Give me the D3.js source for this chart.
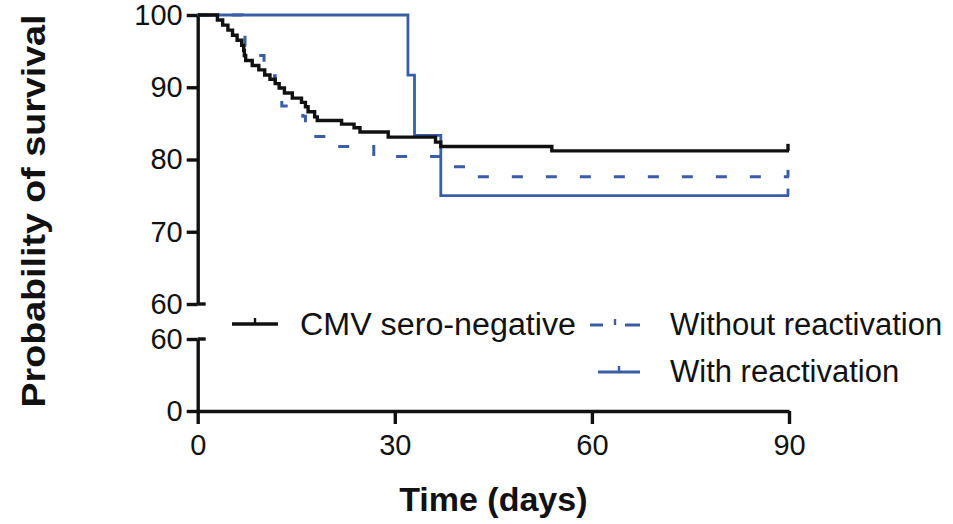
<!DOCTYPE html>
<html>
<head>
<meta charset="utf-8">
<script src="https://cdn.jsdelivr.net/npm/d3@7"></script>
<style>
  html, body { margin: 0; padding: 0; background: #fff; }
  svg { display: block; }
  text { font-family: "Liberation Sans", Arial, Helvetica, sans-serif; fill: #111; }
</style>
</head>
<body>
<svg id="chart" width="953" height="524"></svg>
<script>
// Kaplan-Meier survival steps: event times (days) and survival (%) after each event
const seroNegTimes = [0, 3.0, 3.8, 4.6, 5.3, 6.0, 6.7, 7.0, 7.1, 7.3, 8.3, 9.3, 10.2, 11.0, 11.8, 12.4, 13.2, 14.4, 15.8, 16.4, 16.8, 17.8, 18.2, 21.9, 23.8, 24.7, 29.0, 36.2, 37.0, 53.9];
const seroNegSurv  = [100, 99.3, 98.6, 97.9, 97.2, 96.5, 95.8, 95.1, 94.4, 93.7, 93.0, 92.4, 91.7, 91.1, 90.5, 89.9, 89.2, 88.5, 87.9, 87.3, 86.6, 85.9, 85.4, 84.9, 84.4, 83.8, 83.1, 82.4, 81.8, 81.2];

const noReactTimes = [0, 6.8, 7.1, 7.2, 7.8, 10.1, 11.2, 11.8, 12.1, 12.8, 16.0, 16.4, 17.0, 20.0, 26.8, 39.0, 40.9];
const noReactSurv  = [100, 98.6, 97.2, 95.8, 94.4, 93.0, 91.6, 90.2, 88.8, 87.4, 86.0, 84.6, 83.2, 81.8, 80.4, 79.0, 77.6];

const reactTimes = [0, 32, 33, 37];
const reactSurv  = [100, 91.67, 83.33, 75.0];

// censored observations shown as small upward ticks
const seroNegCensor = [90];
const noReactCensor = [90];
const reactCensor = [90];

const followUp = 90;
const xTicks = [0, 30, 60, 90];
const yTopTicks = [60, 70, 80, 90, 100];
const yBottomTicks = [0, 60];

const legendLabels = ["CMV sero-negative", "Without reactivation", "With reactivation"];

const blue = "#3a5ea6";
const ink = "#111";

const svg = d3.select("#chart");

const x = d3.scaleLinear().domain([0, 90]).range([197.7, 789]);
const yTop = d3.scaleLinear().domain([60, 100]).range([304, 15]);
const yBot = d3.scaleLinear().domain([0, 60]).range([411, 339]);

function styleAxis(g, fs) {
  g.selectAll("path, line").attr("stroke", ink).attr("stroke-width", 3.4);
  g.selectAll("text").attr("font-size", fs).attr("fill", "#111");
  g.attr("font-family", null);
}

// upper segment of the broken y axis
svg.append("g")
  .attr("transform", `translate(${x(0)},0)`)
  .call(d3.axisLeft(yTop).tickValues(yTopTicks).tickSizeInner(11).tickSizeOuter(0).tickPadding(4))
  .call(g => styleAxis(g, 29));

// lower segment of the broken y axis
svg.append("g")
  .attr("transform", `translate(${x(0)},0)`)
  .call(d3.axisLeft(yBot).tickValues(yBottomTicks).tickSizeInner(11).tickSizeOuter(0).tickPadding(4))
  .call(g => styleAxis(g, 29));

// caps at the axis break
[yTop(60), yBot(60)].forEach(yy => {
  svg.append("line")
    .attr("x1", x(0)).attr("x2", x(0) + 8)
    .attr("y1", yy).attr("y2", yy)
    .attr("stroke", ink).attr("stroke-width", 3.4);
});

// x axis
svg.append("g")
  .attr("transform", `translate(0,${yBot(0)})`)
  .call(d3.axisBottom(x).tickValues(xTicks).tickSizeInner(13).tickSizeOuter(0).tickPadding(10))
  .call(g => styleAxis(g, 29));

// axis titles
svg.append("text")
  .attr("transform", `translate(45,${211}) rotate(-90)`)
  .attr("text-anchor", "middle")
  .attr("font-size", 34).attr("font-weight", "bold")
  .attr("textLength", 393).attr("lengthAdjust", "spacingAndGlyphs")
  .text("Probability of survival");

svg.append("text")
  .attr("x", (x(0) + x(90)) / 2).attr("y", 511)
  .attr("text-anchor", "middle")
  .attr("font-size", 34).attr("font-weight", "bold")
  .text("Time (days)");

// survival curves
const step = d3.line().x(d => x(d[0])).y(d => yTop(d[1])).curve(d3.curveStepAfter);

function series(times, surv) {
  const pts = times.map((t, i) => [t, surv[i]]);
  pts.push([followUp, surv[surv.length - 1]]);
  return pts;
}

function survAt(times, surv, t) {
  let v = surv[0];
  times.forEach((tt, i) => { if (tt <= t) v = surv[i]; });
  return v;
}

function drawCensor(times, surv, cens, color, w) {
  cens.forEach(t => {
    const v = survAt(times, surv, t);
    svg.append("line")
      .attr("x1", x(t) - 1).attr("x2", x(t) - 1)
      .attr("y1", yTop(v)).attr("y2", yTop(v) - 7)
      .attr("stroke", color).attr("stroke-width", w);
  });
}

svg.append("path")
  .datum(series(noReactTimes, noReactSurv))
  .attr("d", step)
  .attr("fill", "none").attr("stroke", blue).attr("stroke-width", 3)
  .attr("stroke-dasharray", "11,23");
drawCensor(noReactTimes, noReactSurv, noReactCensor, blue, 3);

svg.append("path")
  .datum(series(reactTimes, reactSurv))
  .attr("d", step)
  .attr("fill", "none").attr("stroke", blue).attr("stroke-width", 2.8);
drawCensor(reactTimes, reactSurv, reactCensor, blue, 2.8);

svg.append("path")
  .datum(series(seroNegTimes, seroNegSurv))
  .attr("d", step)
  .attr("fill", "none").attr("stroke", ink).attr("stroke-width", 3.4);
drawCensor(seroNegTimes, seroNegSurv, seroNegCensor, ink, 3.4);

// legend
const legend = [
  { label: legendLabels[0], color: ink, dash: null, x1: 232, x2: 278, y: 324, tx: 300, ty: 335, w: 3.4, len: 276 },
  { label: legendLabels[1], color: blue, dash: "13,22,15", x1: 590, x2: 640, y: 325, tx: 670, ty: 335, w: 3, len: null },
  { label: legendLabels[2], color: blue, dash: null, x1: 598, x2: 640, y: 372, tx: 670, ty: 382, w: 2.8, len: null }
];
legend.forEach(l => {
  svg.append("line")
    .attr("x1", l.x1).attr("x2", l.x2).attr("y1", l.y).attr("y2", l.y)
    .attr("stroke", l.color).attr("stroke-width", l.w)
    .attr("stroke-dasharray", l.dash);
  const mid = (l.x1 + l.x2) / 2;
  svg.append("line")
    .attr("x1", mid).attr("x2", mid).attr("y1", l.y).attr("y2", l.y - 6)
    .attr("stroke", l.color).attr("stroke-width", 2.4);
  const t = svg.append("text")
    .attr("x", l.tx).attr("y", l.ty)
    .attr("font-size", 31)
    .text(l.label);
  if (l.len) t.attr("textLength", l.len).attr("lengthAdjust", "spacingAndGlyphs");
});
</script>
</body>
</html>
